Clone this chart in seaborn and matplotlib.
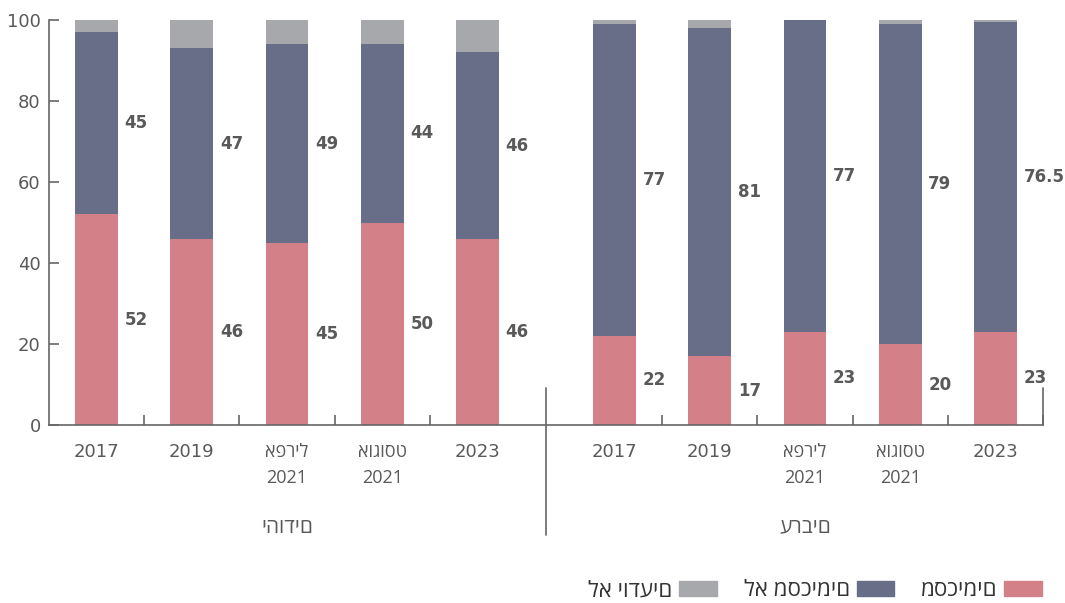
import seaborn as sns
import pandas as pd
import matplotlib.pyplot as plt
from matplotlib.patches import Patch

# survey waves and groups
periods = ['2017', '2019', 'אפריל\n2021', 'אוגוסט\n2021', '2023']
groups = ['יהודים', 'ערבים']

# values per group, in the order of periods
agree_jews = [52, 46, 45, 50, 46]
disagree_jews = [45, 47, 49, 44, 46]
dontknow_jews = [3, 7, 6, 6, 8]

agree_arabs = [22, 17, 23, 20, 23]
disagree_arabs = [77, 81, 77, 79, 76.5]
dontknow_arabs = [1, 2, 0, 1, 0.5]

series_names = ['מסכימים', 'לא מסכימים', 'לא יודעים']
colors = ['#d48088', '#696e88', '#a7a8ac']
text_color = '#595959'
heb_font = ['Open Sans', 'DejaVu Sans']


def is_hebrew(s):
    return any('\u0590' <= c <= '\u05ff' for c in s)


group_offset = 5.44  # arab bars start here (a small gap after the jewish group)
rows = []
for g, (ag, dis, dk) in enumerate([(agree_jews, disagree_jews, dontknow_jews),
                                   (agree_arabs, disagree_arabs, dontknow_arabs)]):
    for i, p in enumerate(periods):
        rows.append({'group': groups[g], 'period': p, 'pos': i + g * group_offset,
                     'agree': ag[i], 'disagree': dis[i], 'dontknow': dk[i]})
df = pd.DataFrame(rows)
df['top_disagree'] = df['agree'] + df['disagree']
df['top_all'] = df['top_disagree'] + df['dontknow']

sns.set_theme(style="white")
plt.rcParams['font.family'] = ['DejaVu Sans']

fig = plt.figure(figsize=(10.65, 6.03), dpi=100)
ax = fig.add_axes([49 / 1065, 178 / 603, 994 / 1065, 405 / 603])

# stacked by overlaying cumulative heights
for col, c in zip(['top_all', 'top_disagree', 'agree'], colors[::-1]):
    sns.barplot(data=df, x='pos', y=col, native_scale=True, width=0.45,
                color=c, saturation=1, linewidth=0, errorbar=None, ax=ax)

# value labels beside the bars
for _, r in df.iterrows():
    ax.text(r['pos'] + 0.295, r['agree'] / 2, f"{r['agree']:g}", ha='left', va='center',
            fontsize=12, fontweight='bold', color=text_color)
    ax.text(r['pos'] + 0.295, r['agree'] + r['disagree'] / 2, f"{r['disagree']:g}",
            ha='left', va='center', fontsize=12, fontweight='bold', color=text_color)

ax.set_xlim(-0.5, 4 + group_offset + 0.5)
ax.set_ylim(0, 100)
ax.set_xlabel('')
ax.set_ylabel('')

ax.set_xticks(df['pos'])
ax.set_xticklabels(df['period'])
for t in ax.get_xticklabels():
    if is_hebrew(t.get_text()):
        t.set_family(heb_font)
        t.set_fontsize(14.5)
        t.set_linespacing(1.55)
ax.set_xticks([i + 0.5 for i in range(4)] + [i + 0.5 + group_offset for i in range(5)], minor=True)
ax.tick_params(axis='x', which='major', length=0, pad=13, labelsize=13, labelcolor=text_color)
ax.tick_params(axis='x', which='minor', direction='in', length=7, width=1.2, color='#666666', bottom=True)
ax.set_yticks(range(0, 101, 20))
ax.tick_params(axis='y', direction='in', length=7, width=1.2, color='#666666', left=True,
               labelsize=13, labelcolor=text_color, pad=6)

sns.despine(ax=ax)
for s in ['left', 'bottom']:
    ax.spines[s].set_color('#666666')
    ax.spines[s].set_linewidth(1.2)

# group separator and closing line
xt = ax.get_xaxis_transform()
sep = (4 + group_offset) / 2
ax.plot([sep, sep], [0.091, -0.272], transform=xt, clip_on=False, color='#666666', lw=1.2)
end = 4 + group_offset + 0.5
ax.plot([end, end], [0, 0.091], transform=xt, clip_on=False, color='#666666', lw=1.2)

for g, name in enumerate(groups):
    ax.text(2 + g * group_offset, -0.252, name, transform=xt, ha='center', va='center',
            fontsize=15, color=text_color, family=heb_font)

handles = [Patch(color=c) for c in colors[::-1]]
fig.legend(handles, series_names[::-1], loc='lower right', bbox_to_anchor=(1062 / 1065, -0.03),
           ncol=3, frameon=False, markerfirst=False, handlelength=1.7, handleheight=0.65,
           columnspacing=1.2, handletextpad=0.3, prop={'size': 16, 'family': heb_font},
           labelcolor='#333333')

plt.savefig('out.png', dpi=100)
